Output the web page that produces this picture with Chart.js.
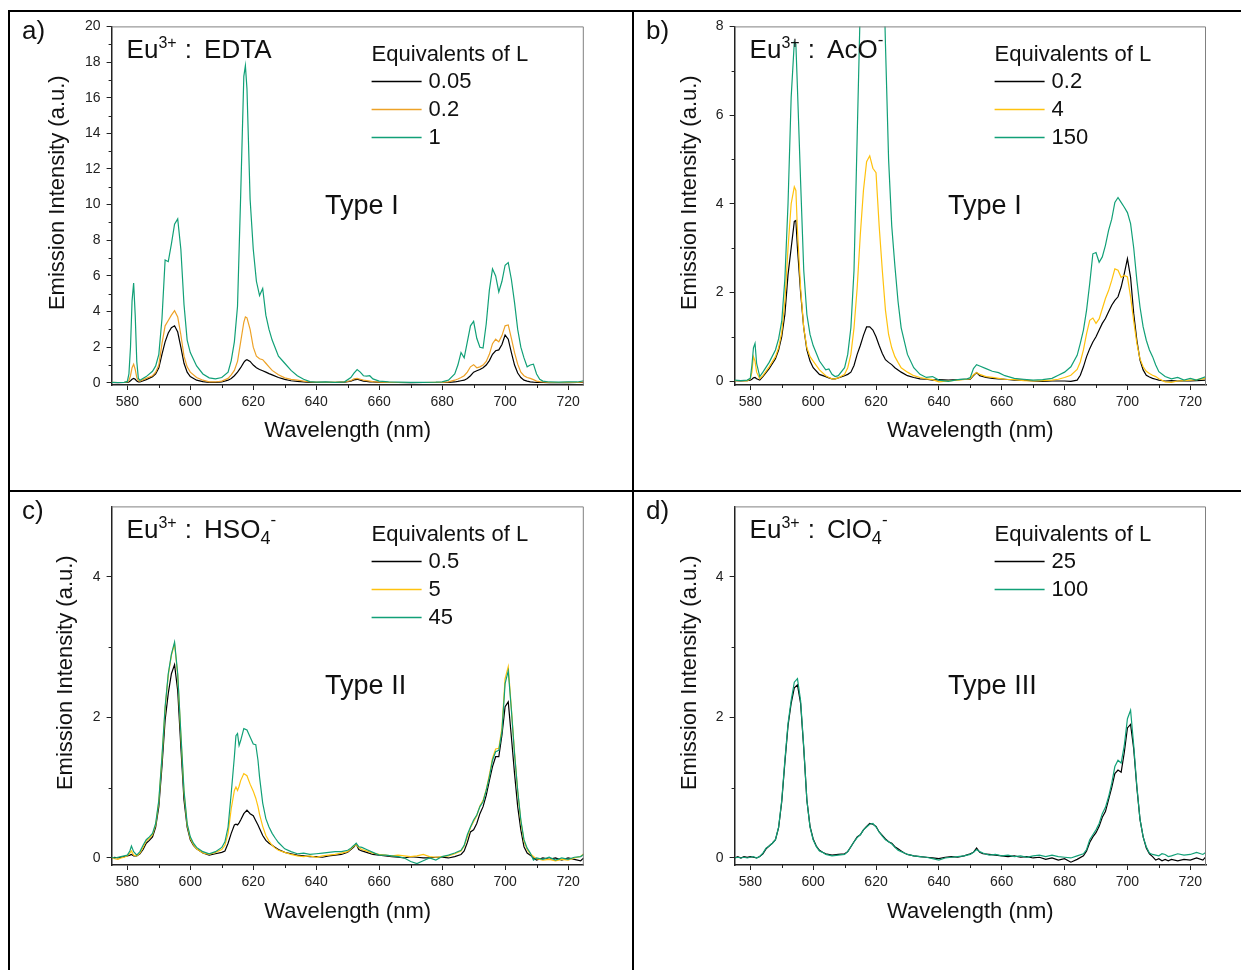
<!DOCTYPE html>
<html lang="en">
<head>
  <meta charset="UTF-8">
  <title>Eu3+ emission spectra with added ligands</title>
  <script src="https://cdn.jsdelivr.net/npm/chart.js"></script>
  <style>
    body { margin: 0; background: #fff; }
    #fig { position: relative; width: 1241px; height: 970px; overflow: hidden; }
    .rule { position: absolute; background: #000; }
    canvas { position: absolute; }
  </style>
</head>
<body>
  <div id="fig">
    <div class="rule" style="left:8px;top:10px;width:1233px;height:2px"></div>
    <div class="rule" style="left:8px;top:10px;width:2px;height:960px"></div>
    <div class="rule" style="left:632px;top:10px;width:2px;height:960px"></div>
    <div class="rule" style="left:8px;top:490px;width:1233px;height:2px"></div>
    <canvas id="pa" width="620" height="478" style="left:10px;top:12px"></canvas>
    <canvas id="pb" width="607" height="478" style="left:634px;top:12px"></canvas>
    <canvas id="pc" width="620" height="478" style="left:10px;top:492px"></canvas>
    <canvas id="pd" width="607" height="478" style="left:634px;top:492px"></canvas>
  </div>
  <script>
    // shared axis ticks
    const xMajor = [580, 600, 620, 640, 660, 680, 700, 720];
    const xMinor = [590, 610, 630, 650, 670, 690, 710];
    const yMajorA = [0, 2, 4, 6, 8, 10, 12, 14, 16, 18, 20];
    const yMinorA = [1, 3, 5, 7, 9, 11, 13, 15, 17, 19];
    const yMajorB = [0, 2, 4, 6, 8];
    const yMinorB = [1, 3, 5, 7];
    const yMajorCD = [0, 2, 4];
    const yMinorCD = [1, 3];

    // a) Eu3+ : EDTA
    const wlA = [575, 577, 579, 580, 580.5, 581, 581.5, 582, 582.5, 583,
      583.5, 584, 586, 588, 589, 590, 591, 592, 593, 594,
      595, 596, 597, 598, 599, 600, 602, 604, 606, 608,
      610, 612, 613, 614, 615, 616, 617, 617.5, 618, 619,
      620, 621, 622, 623, 624, 625, 626, 628, 630, 632,
      634, 636, 638, 640, 643, 646, 649, 651, 652, 653,
      654, 655, 656, 657, 658, 660, 663, 666, 670, 674,
      678, 680, 682, 684, 685, 686, 687, 688, 689, 690,
      691, 692, 693, 694, 695, 696, 697, 698, 699, 700,
      701, 702, 703, 704, 705, 706, 707, 708, 709, 710,
      711, 712, 714, 717, 720, 723, 725];
    const edta005 = [0.02, 0.01, 0.02, 0.03, 0.05, 0.12, 0.2, 0.25, 0.2, 0.1,
      0.05, 0.05, 0.18, 0.35, 0.5, 0.85, 1.6, 2.3, 2.8, 3.1,
      3.2, 2.85, 2.0, 1.1, 0.6, 0.35, 0.15, 0.07, 0.03, 0.03,
      0.05, 0.15, 0.25, 0.4, 0.6, 0.85, 1.15, 1.25, 1.3, 1.2,
      1.0, 0.85, 0.75, 0.68, 0.6, 0.52, 0.45, 0.3, 0.2, 0.12,
      0.08, 0.05, 0.03, 0.02, 0.03, 0.02, 0.04, 0.1, 0.17, 0.2,
      0.15, 0.1, 0.08, 0.06, 0.05, 0.03, 0.02, 0.02, 0.01, 0.02,
      0.02, 0.02, 0.03, 0.05, 0.08, 0.12, 0.15, 0.25, 0.4, 0.6,
      0.68, 0.75, 0.85, 1.0, 1.25, 1.6, 1.8, 1.85, 2.15, 2.68,
      2.45, 1.7, 1.0, 0.55, 0.3, 0.15, 0.1, 0.06, 0.04, 0.03,
      0.02, 0.02, 0.01, 0.02, 0.01, 0.02, 0.03];
    const edta02 = [0.03, 0.02, 0.03, 0.05, 0.12, 0.4, 0.85, 1.05, 0.75, 0.3,
      0.12, 0.1, 0.25, 0.4, 0.6, 1.0, 2.2, 3.2, 3.5, 3.8,
      4.05, 3.7, 2.7, 1.5, 0.9, 0.6, 0.3, 0.15, 0.06, 0.05,
      0.1, 0.25, 0.45, 0.7, 1.2, 2.3, 3.4, 3.7, 3.65, 3.0,
      2.0, 1.5, 1.35, 1.3, 1.1, 0.9, 0.7, 0.45, 0.28, 0.2,
      0.15, 0.1, 0.05, 0.04, 0.03, 0.04, 0.05, 0.12, 0.22, 0.25,
      0.2, 0.15, 0.13, 0.1, 0.07, 0.04, 0.03, 0.02, 0.02, 0.02,
      0.03, 0.03, 0.06, 0.15, 0.22, 0.3, 0.4, 0.6, 0.9, 1.02,
      0.85, 0.9, 1.0, 1.2, 1.6, 2.2, 2.45, 2.3, 2.65, 3.2,
      3.25, 2.5, 1.7, 1.05, 0.6, 0.4, 0.3, 0.25, 0.18, 0.1,
      0.07, 0.05, 0.03, 0.02, 0.03, 0.02, 0.05];
    const edta1 = [0.03, 0.02, 0.03, 0.08, 0.5, 2.0, 4.6, 5.6, 3.8, 1.2,
      0.25, 0.15, 0.35, 0.65, 0.95, 1.6, 3.6, 6.9, 6.8, 7.8,
      8.9, 9.2, 7.5, 4.4, 2.4, 1.7, 0.95, 0.5, 0.28, 0.22,
      0.3, 0.6, 1.25, 2.3, 4.3, 10.5, 17.2, 17.8, 16.5, 10.3,
      7.5, 5.7, 4.9, 5.3, 3.8, 3.0, 2.4, 1.5, 1.1, 0.7,
      0.4, 0.2, 0.07, 0.04, 0.05, 0.03, 0.06, 0.3, 0.55, 0.75,
      0.6, 0.4, 0.38, 0.4, 0.22, 0.1, 0.05, 0.04, 0.03, 0.03,
      0.04, 0.06, 0.15, 0.5, 1.0, 1.7, 1.4, 2.3, 3.2, 3.45,
      2.5, 2.0, 1.95, 3.3, 5.2, 6.4, 6.0, 5.1, 5.7, 6.6,
      6.75, 5.8, 4.5, 3.0, 2.0, 1.4, 0.9, 1.0, 1.05, 0.5,
      0.2, 0.1, 0.05, 0.04, 0.06, 0.05, 0.12];

    // b) Eu3+ : AcO-
    const wlB = [575, 577, 579, 580, 580.5, 581, 581.5, 582, 583, 584,
      586, 588, 589, 590, 591, 592, 593, 594, 594.5, 595,
      596, 597, 598, 599, 600, 602, 604, 605, 606, 607,
      608, 610, 611, 612, 613, 614, 615, 616, 617, 618,
      619, 620, 621, 622, 623, 624, 625, 626, 627, 628,
      630, 632, 634, 636, 638, 640, 643, 646, 649, 650,
      651, 652, 653, 655, 657, 659, 661, 664, 667, 670,
      673, 676, 678, 680, 682, 684, 685, 686, 687, 688,
      689, 690, 691, 692, 693, 694, 695, 696, 697, 698,
      699, 700, 701, 702, 703, 704, 705, 706, 707, 708,
      709, 710, 712, 714, 716, 718, 720, 722, 725];
    const aco02 = [0.01, 0.0, 0.01, 0.02, 0.04, 0.07, 0.08, 0.05, 0.02, 0.1,
      0.28, 0.5, 0.7, 1.0, 1.5, 2.4, 3.0, 3.6, 3.62, 3.0,
      2.0, 1.2, 0.7, 0.45, 0.3, 0.15, 0.1, 0.07, 0.05, 0.05,
      0.07, 0.12, 0.15, 0.2, 0.35, 0.6, 0.8, 1.03, 1.22, 1.22,
      1.15, 1.0, 0.8, 0.62, 0.48, 0.42, 0.37, 0.3, 0.25, 0.2,
      0.12, 0.08, 0.05, 0.04, 0.02, 0.03, 0.02, 0.03, 0.04, 0.04,
      0.12, 0.19, 0.12, 0.08, 0.06, 0.05, 0.04, 0.02, 0.02, 0.0,
      -0.01, 0.0, 0.0, 0.0, -0.01, 0.02, 0.13, 0.32, 0.55, 0.73,
      0.88, 1.0, 1.15, 1.3, 1.41, 1.56, 1.71, 1.82, 1.9, 2.12,
      2.42, 2.76, 2.34, 1.52, 0.92, 0.47, 0.25, 0.13, 0.09, 0.06,
      0.04, 0.02, 0.0, 0.01, 0.0, 0.01, 0.0, 0.01, 0.02];
    const aco4 = [0.01, 0.01, 0.0, 0.05, 0.2, 0.55, 0.45, 0.2, 0.05, 0.12,
      0.32, 0.55, 0.75, 1.1, 1.8, 3.0, 4.0, 4.38, 4.3, 3.4,
      2.1, 1.2, 0.75, 0.55, 0.45, 0.25, 0.12, 0.08, 0.05, 0.05,
      0.07, 0.15, 0.3, 0.6, 1.2, 2.1, 3.3, 4.3, 4.95, 5.08,
      4.8, 4.7, 3.5, 2.5, 1.6, 1.05, 0.75, 0.55, 0.42, 0.3,
      0.2, 0.12, 0.08, 0.05, 0.03, -0.02, 0.0, 0.02, 0.04, 0.05,
      0.14, 0.19, 0.15, 0.1, 0.08, 0.06, 0.04, 0.03, 0.01, 0.0,
      0.01, 0.02, 0.04, 0.08, 0.13, 0.26, 0.43, 0.7, 1.07, 1.37,
      1.42, 1.3, 1.4, 1.63, 1.86, 2.04, 2.27, 2.53, 2.5, 2.34,
      2.38, 2.35, 1.9, 1.35, 0.85, 0.5, 0.32, 0.22, 0.17, 0.13,
      0.1, 0.05, -0.02, -0.03, 0.0, 0.01, 0.02, 0.03, 0.06];
    const aco150 = [0.02, 0.01, 0.02, 0.06, 0.35, 0.75, 0.85, 0.4, 0.1, 0.2,
      0.42, 0.7, 0.95, 1.35, 2.3, 4.0, 6.4, 7.65, 7.6, 6.6,
      4.5, 2.5, 1.5, 1.05, 0.8, 0.45, 0.25, 0.27, 0.15, 0.1,
      0.12, 0.3, 0.6, 1.2, 2.5, 5.5, 8.5, 14, 19, 21,
      20, 17, 13, 10.5, 7.6, 5.0, 3.5, 2.6, 1.8, 1.2,
      0.6, 0.3, 0.15, 0.08, 0.1, 0.02, -0.01, 0.03, 0.05, 0.08,
      0.28, 0.37, 0.34, 0.28, 0.22, 0.19, 0.12, 0.06, 0.04, 0.02,
      0.03, 0.06, 0.13, 0.2, 0.32, 0.58, 0.85, 1.15, 1.6, 2.2,
      2.87, 2.9, 2.68, 2.8, 3.06, 3.4, 3.65, 4.03, 4.14, 4.03,
      3.92, 3.8, 3.55, 3.0, 2.27, 1.67, 1.22, 0.92, 0.7, 0.55,
      0.36, 0.21, 0.1, 0.05, 0.08, 0.02, 0.06, 0.02, 0.1];

    // c) Eu3+ : HSO4-
    const wlC = [575, 576, 577, 578, 579, 580, 580.8, 581.3, 582, 583,
      584, 585, 586, 587, 588, 589, 590, 591, 592, 593,
      594, 595, 596, 597, 598, 599, 600, 601, 602, 604,
      606, 608, 610, 611, 612, 613, 614, 614.5, 615, 615.5,
      616, 617, 618, 619, 620, 620.8, 621.5, 622, 623, 624,
      625, 626, 627, 628, 630, 632, 634, 636, 638, 640,
      642, 644, 646, 648, 650, 651, 652, 652.7, 653.5, 654.5,
      656, 658, 660, 662, 664, 666, 668, 670, 672, 674,
      676, 678, 680, 682, 684, 686, 687, 688, 689, 690,
      691, 692, 693, 694, 695, 696, 697, 698, 699, 700,
      701, 702, 703, 704, 705, 706, 707, 708, 709, 710,
      712, 714, 716, 718, 720, 722, 724, 725];
    const hso05 = [0.0, 0.01, 0.0, 0.01, 0.02, 0.03, 0.04, 0.05, 0.03, 0.03,
      0.06, 0.12, 0.21, 0.25, 0.3, 0.44, 0.73, 1.3, 1.96, 2.34,
      2.62, 2.75, 2.38, 1.58, 0.82, 0.44, 0.26, 0.18, 0.13, 0.07,
      0.04, 0.06, 0.08, 0.1, 0.21, 0.35, 0.47, 0.48, 0.47, 0.5,
      0.54, 0.63, 0.68, 0.63, 0.6, 0.53, 0.47, 0.42, 0.32, 0.25,
      0.21, 0.18, 0.15, 0.12, 0.08, 0.06, 0.04, 0.03, 0.02, 0.02,
      0.01, 0.03, 0.04, 0.05, 0.08, 0.12, 0.16, 0.2, 0.12, 0.1,
      0.08, 0.05, 0.04, 0.03, 0.02, 0.01, 0.0, 0.02, 0.01, 0.0,
      0.0, 0.01, 0.01, 0.0, 0.02, 0.05, 0.1, 0.22, 0.37, 0.4,
      0.49, 0.63, 0.73, 0.89, 1.1, 1.3, 1.44, 1.44, 1.75, 2.15,
      2.22, 1.72, 1.2, 0.73, 0.4, 0.16, 0.07, 0.04, 0.0, -0.03,
      0.0, -0.02, 0.0, -0.03, 0.0, -0.02, -0.04, 0.0];
    const hso5 = [0.01, -0.01, -0.02, 0.0, 0.01, 0.03, 0.07, 0.1, 0.04, 0.03,
      0.07, 0.15, 0.24, 0.28, 0.33, 0.47, 0.8, 1.42, 2.12, 2.6,
      2.88, 3.05, 2.6, 1.75, 0.93, 0.47, 0.28, 0.19, 0.13, 0.07,
      0.05, 0.08, 0.12, 0.18, 0.35, 0.7, 0.96, 1.01, 0.96, 1.02,
      1.1, 1.2, 1.17, 1.05, 0.95, 0.85, 0.73, 0.62, 0.45, 0.32,
      0.24, 0.18, 0.14, 0.11, 0.08, 0.05, 0.03, 0.02, 0.03, 0.01,
      0.03, 0.04, 0.05, 0.07, 0.09, 0.13, 0.17, 0.19, 0.15, 0.12,
      0.1, 0.07, 0.05, 0.04, 0.03, 0.04, 0.03, 0.02, 0.03, 0.05,
      0.02, 0.01, 0.02, 0.03, 0.06, 0.1, 0.17, 0.3, 0.43, 0.52,
      0.6, 0.74, 0.82, 0.97, 1.18, 1.42, 1.55, 1.56, 1.85, 2.55,
      2.72, 2.12, 1.5, 0.95, 0.52, 0.24, 0.12, 0.06, 0.02, -0.01,
      -0.03, -0.02, -0.04, -0.02, -0.03, 0.0, 0.02, 0.06];
    const hso45 = [0.01, 0.0, 0.01, 0.02, 0.03, 0.04, 0.1, 0.17, 0.09, 0.04,
      0.09, 0.18, 0.26, 0.3, 0.35, 0.49, 0.82, 1.44, 2.15, 2.62,
      2.9, 3.07, 2.62, 1.77, 0.96, 0.49, 0.3, 0.21, 0.15, 0.09,
      0.06, 0.09, 0.15, 0.23, 0.44, 0.92, 1.44, 1.74, 1.77, 1.6,
      1.67, 1.84, 1.82, 1.72, 1.62, 1.61, 1.39, 1.15, 0.78, 0.56,
      0.44, 0.35, 0.28, 0.22, 0.13, 0.09, 0.06, 0.07, 0.05, 0.06,
      0.07, 0.08, 0.09, 0.09, 0.11, 0.14, 0.18, 0.21, 0.16, 0.15,
      0.12, 0.08, 0.04, 0.04, 0.03, 0.02, 0.0, -0.05, -0.08, -0.04,
      0.0, -0.03, 0.02, 0.04, 0.07, 0.11, 0.18, 0.33, 0.44, 0.54,
      0.61, 0.73, 0.8, 0.96, 1.15, 1.39, 1.51, 1.53, 1.8, 2.48,
      2.66, 2.1, 1.48, 0.96, 0.54, 0.26, 0.14, 0.07, -0.03, 0.0,
      -0.02, 0.01, -0.03, 0.0, -0.02, 0.01, 0.02, 0.05];

    // d) Eu3+ : ClO4-
    const wlD = [575, 576, 577, 578, 579, 580, 581, 582, 583, 584,
      585, 586, 587, 588, 589, 590, 591, 592, 593, 594,
      595, 596, 597, 598, 599, 600, 601, 602, 603, 604,
      606, 608, 610, 611, 612, 613, 614, 615, 616, 617,
      618, 619, 620, 621, 622, 623, 624, 625, 626, 627,
      628, 629, 630, 632, 634, 636, 638, 640, 642, 644,
      646, 648, 650, 651, 652, 653, 654, 656, 658, 660,
      662, 664, 666, 668, 670, 672, 674, 676, 678, 680,
      682, 684, 686, 687, 688, 689, 690, 691, 692, 693,
      694, 695, 696, 697, 698, 699, 700, 701, 702, 703,
      704, 705, 706, 707, 708, 709, 710, 711, 712, 713,
      714, 716, 718, 720, 722, 724, 725];
    const clo25 = [0.0, 0.02, 0.0, 0.02, 0.01, 0.02, 0.01, 0.0, 0.02, 0.06,
      0.13, 0.17, 0.21, 0.26, 0.43, 0.8, 1.36, 1.88, 2.2, 2.42,
      2.46, 2.2, 1.56, 0.82, 0.45, 0.27, 0.17, 0.11, 0.08, 0.06,
      0.04, 0.05, 0.06, 0.09, 0.16, 0.23, 0.3, 0.33, 0.4, 0.45,
      0.49, 0.48, 0.45, 0.37, 0.32, 0.27, 0.23, 0.21, 0.16, 0.13,
      0.1, 0.07, 0.05, 0.03, 0.02, 0.01, 0.0, -0.01, 0.01, 0.02,
      0.01, 0.03, 0.06, 0.08, 0.14, 0.08, 0.06, 0.05, 0.04, 0.03,
      0.02, 0.03, 0.01, 0.02, 0.0, 0.01, -0.02, 0.0, -0.03, -0.01,
      -0.06, -0.02, 0.03, 0.1, 0.22, 0.3, 0.36, 0.45, 0.58, 0.66,
      0.83, 1.0, 1.2, 1.25, 1.22, 1.5, 1.85, 1.9, 1.55, 1.0,
      0.55, 0.3, 0.14, 0.06, 0.02, -0.03, -0.01, -0.04, -0.02, -0.04,
      -0.02, -0.04, -0.02, -0.03, 0.0, -0.03, 0.02];
    const clo100 = [0.0, 0.01, 0.0, 0.01, 0.0, 0.01, 0.02, 0.0, 0.02, 0.07,
      0.14, 0.17, 0.21, 0.26, 0.44, 0.82, 1.39, 1.91, 2.24, 2.5,
      2.55, 2.24, 1.58, 0.82, 0.44, 0.26, 0.16, 0.1, 0.08, 0.05,
      0.03, 0.04, 0.05, 0.09, 0.16, 0.23, 0.29, 0.33, 0.4, 0.44,
      0.48, 0.49, 0.44, 0.37, 0.31, 0.26, 0.23, 0.2, 0.15, 0.11,
      0.09, 0.07, 0.05, 0.03, 0.02, 0.01, -0.01, -0.03, 0.0, 0.01,
      0.02, 0.03, 0.05, 0.08, 0.12, 0.09, 0.07, 0.04, 0.05, 0.03,
      0.04, 0.02, 0.03, 0.01, 0.03, 0.04, 0.02, 0.04, 0.02, 0.01,
      0.0, 0.03, 0.06, 0.12, 0.26, 0.33, 0.4, 0.49, 0.63, 0.72,
      0.87, 1.06, 1.3, 1.39, 1.35, 1.6, 1.98, 2.1, 1.6, 1.02,
      0.55, 0.3, 0.16, 0.07, 0.05, 0.04, 0.03, 0.06, 0.05, 0.02,
      0.03, 0.06, 0.04, 0.05, 0.08, 0.05, 0.08];

    const BLACK = '#000000', ORANGE = '#EDA227', YELLOW = '#FFC20E', GREEN = '#11A077';
    const FONT = '"Liberation Sans", Arial, Helvetica, sans-serif';
    Chart.defaults.font.family = FONT;
    Chart.defaults.color = '#111';

    function toPoints(wl, ys) {
      return wl.map((x, i) => ({ x: x, y: ys[i] }));
    }

    // text runs with super/subscripts
    function richText(ctx, x, y, parts) {
      parts.forEach(p => {
        ctx.font = p.size + 'px ' + FONT;
        x += p.gap || 0;
        ctx.fillText(p.text, x, y + (p.dy || 0));
        x += ctx.measureText(p.text).width;
      });
    }

    const decor = {
      id: 'decor',
      afterDraw(chart, args, o) {
        const { ctx, chartArea: a, scales: { x, y } } = chart;
        ctx.save();
        // grey top/right frame
        ctx.strokeStyle = '#808080';
        ctx.lineWidth = 1;
        ctx.beginPath();
        ctx.moveTo(a.left, a.top + 0.5);
        ctx.lineTo(a.right - 0.5, a.top + 0.5);
        ctx.lineTo(a.right - 0.5, a.bottom);
        ctx.stroke();
        // minor ticks
        ctx.strokeStyle = '#222';
        ctx.beginPath();
        o.xMinor.forEach(v => {
          const px = Math.round(x.getPixelForValue(v)) + 0.5;
          ctx.moveTo(px, a.bottom); ctx.lineTo(px, a.bottom + 3);
        });
        o.yMinor.forEach(v => {
          const py = Math.round(y.getPixelForValue(v)) + 0.5;
          ctx.moveTo(a.left, py); ctx.lineTo(a.left - 3, py);
        });
        ctx.stroke();

        ctx.fillStyle = '#111';
        ctx.textBaseline = 'alphabetic';
        ctx.textAlign = 'left';
        // panel tag
        ctx.font = '26px ' + FONT;
        ctx.fillText(o.tag, 12, 27);
        // system label
        richText(ctx, a.left + 15, a.top + 32, o.title);
        // type label
        ctx.font = '27px ' + FONT;
        ctx.fillText(o.type, a.left + 213.5, a.top + 188);
        // legend
        ctx.font = '22px ' + FONT;
        ctx.fillText('Equivalents of L', a.left + 260, a.top + 35);
        chart.data.datasets.forEach((ds, i) => {
          const ly = a.top + 55 + i * 28;
          ctx.strokeStyle = ds.borderColor;
          ctx.lineWidth = 1.5;
          ctx.beginPath();
          ctx.moveTo(a.left + 260, ly); ctx.lineTo(a.left + 310, ly);
          ctx.stroke();
          ctx.textBaseline = 'middle';
          ctx.fillText(ds.label, a.left + 317, ly + 1);
          ctx.textBaseline = 'alphabetic';
        });
        // y axis title
        ctx.translate(o.yTitleX, (a.top + a.bottom) / 2 - 13);
        ctx.rotate(-Math.PI / 2);
        ctx.textAlign = 'center';
        ctx.textBaseline = 'middle';
        ctx.font = '22px ' + FONT;
        ctx.fillText('Emission Intensity (a.u.)', 0, 0);
        ctx.restore();
      }
    };

    function buildPanel(p) {
      const cv = document.getElementById(p.id);
      const W = cv.width, H = cv.height;
      const lh = 22 * 1.2;
      const n = p.series.length;
      const axisStyle = {
        grid: { drawOnChartArea: false, drawTicks: true, tickLength: 5, tickColor: '#222', tickWidth: 1 },
        border: { display: true, color: '#222', width: 1.5 }
      };
      return new Chart(cv, {
        type: 'line',
        data: {
          datasets: p.series.map((ys, i) => ({
            label: p.labels[i],
            data: toPoints(p.wl, ys),
            borderColor: p.colors[i],
            borderWidth: 1.2,
            pointRadius: 0,
            tension: 0,
            order: n - 1 - i   // later series drawn on top
          }))
        },
        options: {
          responsive: false,
          animation: false,
          events: [],
          layout: { padding: { left: 0, top: p.plot.t - p.box.y, right: p.box.x + W - p.plot.r, bottom: 0 } },
          plugins: {
            legend: { display: false },
            tooltip: { enabled: false },
            decor: {
              tag: p.tag, title: p.title, type: p.type,
              xMinor: xMinor, yMinor: p.yMinor,
              yTitleX: p.yTitleX - p.box.x
            }
          },
          scales: {
            x: Object.assign({
              type: 'linear', min: 575, max: 725,
              afterBuildTicks: s => { s.ticks = xMajor.map(v => ({ value: v })); },
              afterFit: s => { s.height = p.box.y + H - p.plot.b; },
              ticks: { font: { size: 14 }, color: '#222', padding: 4, autoSkip: false, maxRotation: 0, callback: v => String(v) },
              title: {
                display: true, text: 'Wavelength (nm)', color: '#111',
                font: { size: 22 },
                padding: { top: 0, bottom: p.box.y + H - p.xTitleY - lh / 2 }
              }
            }, axisStyle),
            y: Object.assign({
              type: 'linear', min: p.yMin, max: p.yMax,
              afterBuildTicks: s => { s.ticks = p.yMajor.map(v => ({ value: v })); },
              afterFit: s => { s.width = p.plot.l - p.box.x; },
              ticks: { font: { size: 14 }, color: '#222', padding: 6, callback: v => String(v) }
            }, axisStyle)
          }
        },
        plugins: [decor]
      });
    }

    const eu = [{ text: 'Eu', size: 26 }, { text: '3+', size: 16, dy: -10 }, { text: ' :', size: 26, gap: 1 }];

    buildPanel({
      id: 'pa', tag: 'a)', box: { x: 10, y: 12 }, plot: { l: 111.6, r: 583.8, t: 25, b: 385 },
      yMin: -0.12, yMax: 20, yMajor: yMajorA, yMinor: yMinorA, yTitleX: 58.3, xTitleY: 431,
      title: eu.concat([{ text: 'EDTA', size: 26, gap: 12 }]), type: 'Type I',
      wl: wlA, series: [edta005, edta02, edta1], labels: ['0.05', '0.2', '1'], colors: [BLACK, ORANGE, GREEN]
    });
    buildPanel({
      id: 'pb', tag: 'b)', box: { x: 634, y: 12 }, plot: { l: 734.6, r: 1206, t: 25, b: 385 },
      yMin: -0.09, yMax: 8, yMajor: yMajorB, yMinor: yMinorB, yTitleX: 690.2, xTitleY: 431,
      title: eu.concat([{ text: 'AcO', size: 26, gap: 12 }, { text: '-', size: 17, dy: -13 }]), type: 'Type I',
      wl: wlB, series: [aco02, aco4, aco150], labels: ['0.2', '4', '150'], colors: [BLACK, YELLOW, GREEN]
    });
    buildPanel({
      id: 'pc', tag: 'c)', box: { x: 10, y: 492 }, plot: { l: 111.6, r: 583.8, t: 505, b: 865 },
      yMin: -0.1, yMax: 5, yMajor: yMajorCD, yMinor: yMinorCD, yTitleX: 66, xTitleY: 911.5,
      title: eu.concat([{ text: 'HSO', size: 26, gap: 12 }, { text: '4', size: 18, dy: 6 }, { text: '-', size: 17, dy: -13 }]), type: 'Type II',
      wl: wlC, series: [hso05, hso5, hso45], labels: ['0.5', '5', '45'], colors: [BLACK, YELLOW, GREEN]
    });
    buildPanel({
      id: 'pd', tag: 'd)', box: { x: 634, y: 492 }, plot: { l: 734.6, r: 1206, t: 505, b: 865 },
      yMin: -0.1, yMax: 5, yMajor: yMajorCD, yMinor: yMinorCD, yTitleX: 690, xTitleY: 911.5,
      title: eu.concat([{ text: 'ClO', size: 26, gap: 12 }, { text: '4', size: 18, dy: 6 }, { text: '-', size: 17, dy: -13 }]), type: 'Type III',
      wl: wlD, series: [clo25, clo100], labels: ['25', '100'], colors: [BLACK, GREEN]
    });
  </script>
</body>
</html>
